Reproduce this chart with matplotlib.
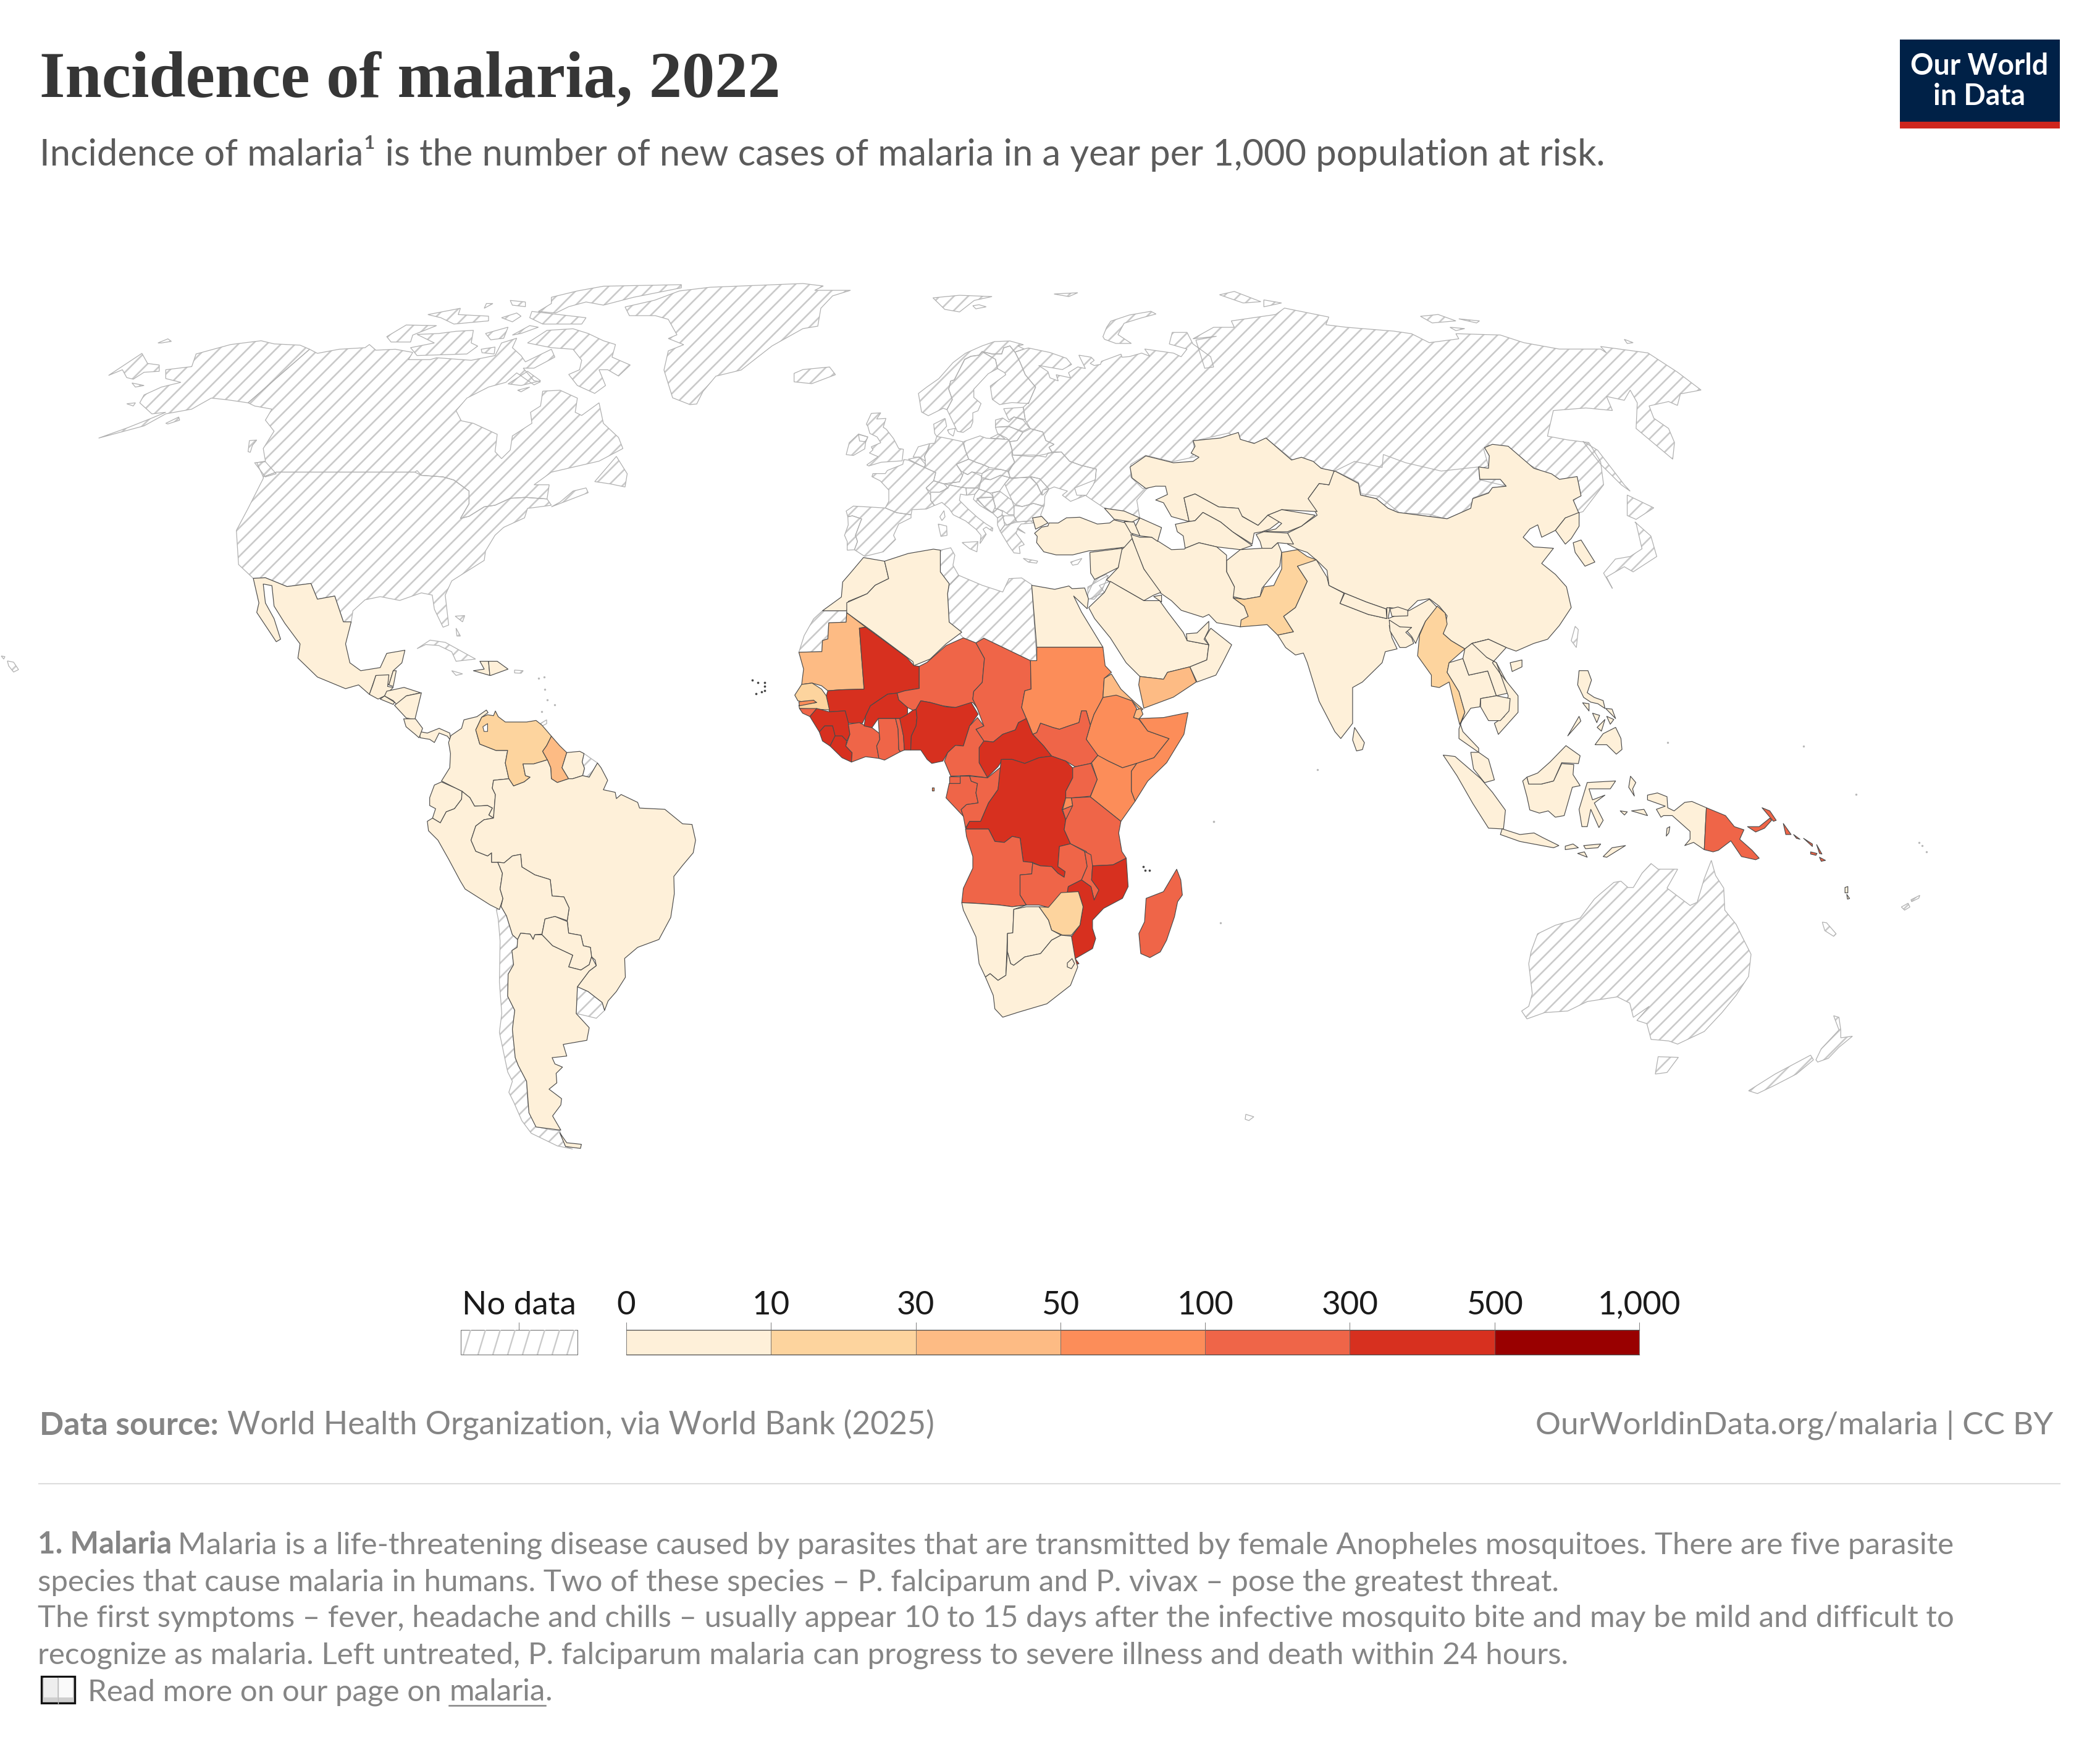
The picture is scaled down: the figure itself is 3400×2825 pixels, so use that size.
import numpy as np
import matplotlib
matplotlib.use("Agg")
import matplotlib.pyplot as plt
from matplotlib.colors import BoundaryNorm, ListedColormap
from matplotlib.patches import Polygon, Rectangle
from matplotlib.collections import LineCollection

# ---------- legend / scale ----------
bin_edges = [0, 10, 30, 50, 100, 300, 500, 1000]
bin_colors = ["#fef0d9", "#fdd49e", "#fdbb84", "#fc8d59", "#ef6548", "#d7301f", "#990000"]
bin_labels = ["0", "10", "30", "50", "100", "300", "500", "1,000"]

# ---------- incidence per 1,000 at risk (read by colour); absent = no data ----------
incidence_africa = {
 "Morocco":1,"Algeria":1,"Egypt":1,"Mauritania":40,"Mali":350,"Senegal":25,"Gambia":60,"Guinea-Bissau":110,
 "Guinea":320,"Sierra Leone":330,"Liberia":340,"Cote d'Ivoire":280,"Burkina Faso":350,"Ghana":160,"Togo":230,
 "Benin":380,"Niger":290,"Nigeria":310,"Chad":190,"Sudan":80,"Eritrea":40,"Djibouti":45,"Ethiopia":70,
 "Somalia":60,"South Sudan":270,"CAR":340,"Cameroon":260,"Equatorial Guinea":240,"Gabon":220,"Congo":230,
 "DR Congo":320,"Uganda":270,"Kenya":65,"Rwanda":85,"Burundi":280,"Tanzania":125,"Angola":230,"Zambia":190,
 "Malawi":220,"Mozambique":310,"Zimbabwe":25,"Namibia":5,"Botswana":1,"South Africa":1,"Eswatini":1,
 "Madagascar":150,"Sao Tome":60,"Comoros":15,"Cape Verde":0}
incidence_americas = {
 "Mexico":0.1,"Guatemala":2,"Belize":0.1,"El Salvador":0,"Honduras":3,"Nicaragua":8,"Costa Rica":1,"Panama":8,
 "Haiti":9,"Dominican Rep":0.5,"Colombia":8,"Venezuela":29,"Guyana":35,"Suriname":3,"Ecuador":2,"Peru":7,
 "Brazil":5,"Bolivia":3,"Paraguay":0,"Argentina":0}
incidence_asia = {
 "Turkey":0,"Syria":0,"Iraq":0,"Iran":1,"Saudi Arabia":1,"Yemen":45,"Oman":0,"UAE":0,"Kuwait":0,"Georgia":0,
 "Armenia":0,"Azerbaijan":0,"Kazakhstan":0,"Uzbekistan":0,"Turkmenistan":0,"Kyrgyzstan":0,"Tajikistan":0,
 "Afghanistan":8,"Pakistan":15,"India":3,"Nepal":0.1,"Bhutan":0.1,"Bangladesh":1,"China":0,"North Korea":1,
 "South Korea":0.1,"Myanmar":12,"Thailand":2,"Laos":2,"Vietnam":0.1,"Cambodia":2,"Malaysia":0.1,"Indonesia":3,
 "Philippines":0.5,"Sri Lanka":0,"PNG":150,"Solomon Islands":130,"Vanuatu":5}

# ---------- reference crops in which the outlines were read: x0, y0, x scale, y scale ----------
crops = {"af":(1200,850,1.96,1.845), "na":(100,420,1.4255,1.96), "sa":(600,1100,2.6133,1.96),
         "eu":(1300,420,1.0453,2.412), "as":(1600,680,1.568,2.24), "oc":(2300,1050,1.742,1.96), "px":(0,0,1,1),
         "e2":(1340,620,3,3), "nr":(1500,480,3,3)}

shapes_africa = {
"Morocco":[258,256,318,215,322,170,345,145,388,97,455,108,468,160,425,180,400,205,340,228,335,256],
"Western Sahara":[258,256,335,256,333,290,278,292,275,340,258,345,256,378,183,380,200,330,230,280],
"Algeria":[335,232,400,205,425,180,468,160,455,108,530,85,610,72,632,75,632,140,660,175,655,205,660,290,700,320,650,355,600,400,548,420,545,408,420,320,335,262],
"Tunisia":[632,75,665,68,678,90,672,120,690,150,660,180,632,140],
"Libya":[660,180,690,150,765,180,830,200,850,160,890,158,922,178,938,405,918,405,770,338,745,352,705,337,660,290,655,205],
"Egypt":[922,180,995,192,1040,182,1050,190,1090,188,1102,220,1098,250,1055,212,1080,260,1148,365,938,365],
"Levant":[1100,185,1165,150,1145,195,1120,222,1100,220],
"Mauritania":[183,380,256,378,258,345,275,340,278,292,333,290,335,262,395,305,375,308,390,490,315,492,275,495,255,480,225,472,192,476,198,430],
"Mali":[375,308,395,305,525,395,548,420,565,422,565,488,520,495,495,502,465,505,425,530,410,540,395,570,385,592,340,592,330,555,280,558,270,510,275,495,315,492,390,490],
"Senegal":[170,508,192,476,225,472,255,490,270,510,280,552,240,550,185,548,183,538,240,530,230,525,190,527,180,525],
"Gambia":[183,528,230,523,238,530,185,540],
"Guinea-Bissau":[185,548,240,548,218,572,195,562],
"Guinea":[218,572,240,548,280,558,330,555,340,590,345,625,335,645,320,630,298,630,290,600,265,600,248,618],
"Sierra Leone":[248,618,265,600,290,600,298,630,282,660,258,645],
"Liberia":[282,660,298,630,320,630,335,645,332,660,352,680,350,708,320,695],
"Cote d'Ivoire":[340,595,375,590,395,600,415,605,438,622,440,640,430,660,437,697,395,692,350,708,352,680,332,660,345,625],
"Burkina Faso":[390,600,395,570,410,540,465,505,495,502,500,522,528,545,528,565,510,578,435,578,415,605],
"Ghana":[435,578,490,578,498,610,500,670,505,677,455,702,437,697,430,660,440,640,438,622],
"Togo":[490,578,505,578,515,630,518,672,505,677,500,670,498,610],
"Benin":[503,578,528,565,545,553,555,550,558,575,555,600,540,630,538,672,518,672,515,630],
"Niger":[495,502,520,495,565,488,565,422,590,410,650,360,705,337,745,352,772,398,765,470,738,497,735,520,752,550,735,530,680,545,640,540,600,530,570,525,555,550,545,553,528,545,500,522],
"Nigeria":[538,672,540,630,555,600,558,575,555,550,570,525,600,530,650,543,680,545,730,530,752,565,725,600,705,660,680,658,655,680,640,705,605,712,590,700,570,672],
"Chad":[745,352,770,338,918,405,920,490,900,495,890,545,905,578,880,590,870,612,830,625,800,648,770,645,745,610,770,600,750,550,735,520,738,497,765,470,772,398],
"Sudan":[918,405,938,405,938,365,1148,365,1155,420,1175,440,1152,458,1148,515,1140,530,1120,565,1108,598,1095,555,1080,555,1072,590,1040,600,1010,610,990,605,950,592,938,620,925,625,905,578,890,545,900,495,920,490],
"Eritrea":[1175,445,1205,490,1250,530,1275,550,1268,555,1240,525,1190,510,1148,515,1152,458],
"Djibouti":[1250,553,1268,548,1275,565,1262,580,1245,575],
"Ethiopia":[1148,515,1190,508,1240,525,1255,548,1245,575,1262,580,1290,615,1358,638,1310,695,1255,712,1210,725,1165,705,1130,688,1095,640,1108,598,1120,565,1140,530],
"Somalia":[1262,578,1340,575,1418,560,1405,625,1350,710,1290,765,1250,825,1238,795,1238,735,1255,712,1310,695,1358,638,1290,615],
"South Sudan":[925,625,938,620,950,592,990,605,1010,610,1040,600,1072,590,1080,555,1095,555,1108,598,1095,640,1132,688,1110,712,1060,722,1030,705,985,690,960,660],
"CAR":[755,660,770,645,800,648,830,625,870,612,880,590,905,578,925,625,960,660,985,690,945,695,900,712,860,700,830,700,815,722,780,755,755,710],
"Cameroon":[645,705,655,680,680,658,705,660,725,600,750,575,770,600,745,610,770,645,755,665,755,710,782,755,725,748,665,750],
"Equatorial Guinea":[660,750,695,750,695,772,660,772],
"Gabon":[660,772,695,772,695,750,725,750,730,765,750,772,745,800,752,830,715,835,698,850,705,870,650,815],
"Congo":[725,750,782,755,825,722,815,790,785,830,760,885,725,885,712,905,705,870,698,850,715,835,752,830,745,800,750,772,730,765],
"DR Congo":[825,700,860,700,900,712,945,695,985,690,1030,705,1052,725,1052,755,1030,795,1030,815,1018,850,1030,880,1025,910,1045,952,1010,960,1005,1020,1028,1035,1025,1052,1005,1040,985,1020,950,1018,925,1008,895,1005,885,935,860,930,835,948,805,945,785,908,712,908,725,885,760,885,785,830,815,790],
"Uganda":[1060,722,1110,712,1130,760,1108,810,1048,815,1030,815,1030,795,1052,755,1052,725],
"Kenya":[1132,688,1165,705,1210,725,1255,712,1238,735,1238,795,1250,825,1205,885,1108,812,1130,760,1112,710],
"Rwanda":[1030,815,1048,815,1052,838,1020,850],
"Burundi":[1020,850,1052,838,1045,860,1030,880],
"Tanzania":[1048,815,1108,812,1205,885,1198,920,1208,975,1222,995,1180,1015,1115,1018,1095,975,1045,952,1025,910,1030,880,1052,838],
"Angola":[712,908,785,908,805,945,835,948,860,930,885,935,895,1005,925,1008,922,1042,885,1045,885,1105,905,1135,860,1140,820,1135,745,1130,700,1128,705,1085,735,1025,735,990,715,930],
"Zambia":[925,1010,950,1018,985,1020,1005,1040,1025,1052,1028,1035,1005,1020,1010,960,1045,952,1090,975,1098,1020,1080,1060,1038,1080,1035,1098,975,1142,945,1135,905,1135,885,1105,885,1045,922,1042],
"Malawi":[1090,975,1110,985,1115,1018,1112,1060,1135,1090,1130,1115,1120,1120,1110,1080,1080,1060,1098,1020],
"Mozambique":[1115,1018,1180,1015,1222,995,1228,1080,1210,1115,1150,1145,1115,1180,1115,1205,1125,1235,1115,1265,1060,1295,1072,1310,1055,1315,1048,1230,1075,1195,1085,1140,1070,1095,1035,1098,1038,1080,1080,1060,1110,1080,1120,1120,1135,1090,1112,1060],
"Zimbabwe":[945,1140,975,1142,1015,1098,1070,1095,1085,1140,1075,1195,1048,1225,1020,1225,985,1210,975,1180],
"Namibia":[700,1128,745,1130,820,1135,860,1140,905,1135,865,1148,862,1218,845,1220,840,1345,815,1360,790,1340,775,1350,755,1310,745,1230,705,1150],
"Botswana":[865,1148,905,1140,945,1140,975,1180,985,1210,1015,1225,985,1240,950,1280,900,1290,865,1315,855,1310,845,1275,845,1220,862,1218],
"South Africa":[775,1350,790,1340,815,1360,840,1345,845,1275,855,1310,865,1315,900,1290,950,1280,985,1240,1015,1225,1048,1228,1060,1295,1068,1320,1045,1375,970,1430,880,1455,830,1470,805,1445,800,1405],
"Eswatini":[1035,1308,1050,1295,1058,1310,1048,1325,1035,1320],
"Lesotho":[965,1372,985,1352,1003,1362,985,1388,972,1388],
"Madagascar":[1382,1028,1395,1060,1400,1105,1385,1125,1375,1170,1350,1240,1330,1275,1297,1292,1268,1280,1262,1220,1280,1185,1285,1115,1340,1095,1362,1060],
"Sao Tome":[605,785,612,785,612,794,605,794],
}

shapes_north_america = {
"Alaska":[572,285,430,455,380,445,345,440,300,475,240,490,190,528,85,567,150,535,205,505,240,485,208,490,180,455,190,430,230,405,275,390,240,378,240,350,300,340,310,300,390,270,460,258,490,268,550,272],
"Seward":[108,368,185,298,198,330,225,335,225,355,190,358,165,380,150,375,140,350],
"Canada":[572,285,590,298,640,285,700,280,710,270,725,288,770,285,810,295,800,318,850,318,865,312,945,320,1000,305,1015,265,1050,250,1040,280,1060,305,1070,325,1130,285,1138,310,1090,345,1065,345,1090,385,1105,388,1090,398,1050,360,1025,390,985,405,935,440,910,480,922,512,950,520,1005,555,1000,610,1015,632,1035,605,1040,560,1085,520,1082,485,1105,465,1110,418,1150,415,1190,440,1185,485,1200,495,1240,455,1250,520,1285,565,1295,600,1240,640,1130,675,1090,715,1125,715,1120,760,1070,755,1035,758,1000,780,975,785,940,815,920,822,940,775,940,735,905,700,880,690,830,685,820,670,815,675,495,675,465,690,450,645,470,640,465,600,490,545,470,510,485,475,445,465,430,455],
"USA":[495,675,815,675,830,685,880,690,905,700,940,735,940,775,920,822,940,815,975,785,1000,780,1035,758,1070,755,1120,760,1130,780,1075,790,1068,820,1020,850,1000,875,978,925,975,955,900,1020,885,1065,893,1160,880,1167,860,1110,855,1065,830,1058,780,1082,735,1070,700,1080,672,1115,668,1150,650,1150,630,1068,590,1078,575,1028,520,1038,470,1010,442,1012,408,968,403,860,430,790,465,695,465,690],
"Nova Scotia":[1130,785,1215,740,1210,725,1180,735,1150,770],
"Newfoundland":[1230,705,1280,625,1305,680,1300,722,1265,712],
"Vancouver":[445,645,470,642,495,680,470,690],
"Baffin":[1075,265,1120,225,1180,220,1215,235,1250,258,1278,270,1270,310,1312,335,1285,370,1260,350,1240,350,1255,400,1230,425,1190,400,1170,365,1195,350,1200,320,1180,285,1130,280],
"Victoria":[805,280,860,265,820,238,870,235,910,228,950,225,945,265,960,275,935,300,820,305],
"Banks":[750,245,795,208,865,210,810,240,805,262,760,262],
"Ellesmere":[1130,120,1190,100,1250,85,1430,80,1430,90,1320,120,1250,145,1210,135,1170,150,1140,170,1100,165,1130,140],
"Devon":[1085,165,1210,185,1200,205,1110,205,1080,185],
"Melville":[845,175,920,155,915,175,985,180,985,195,905,205,875,185],
"Isle a":[1015,185,1050,170,1060,180,1040,198],
"Isle b":[1035,130,1070,135,1070,150,1040,145],
"Isle c":[980,140,995,140,975,155],
"Isle d":[978,235,1030,215,1020,250,990,255],
"Isle e":[1040,240,1080,210,1100,215,1060,235],
"Isle f":[968,285,1000,278,998,300,970,296],
"Southampton":[1030,395,1075,355,1105,385,1060,400],
"Coats":[1052,415,1080,405,1060,420],
"Kodiak":[240,520,270,500,272,510,245,522],
"Nunivak":[150,458,170,455,165,465],
"St Matthew":[162,392,190,400,170,405],
"St Lawrence":[222,265,245,252,253,260,230,265],
"Haida":[430,610,433,575,450,573,440,590,435,612],
"Cuba":[820,1235,850,1208,885,1215,955,1268,910,1275,900,1245,870,1225,840,1222],
"Jamaica":[900,1305,925,1315,910,1320],
"Puerto Rico":[1045,1303,1065,1305,1060,1313,1045,1312],
"Bahamas a":[908,1132,930,1130,925,1150],
"Bahamas b":[910,1170,920,1195,912,1195],
"Mexico":[442,1012,470,1010,520,1038,575,1028,590,1078,630,1068,650,1150,668,1150,655,1220,665,1280,690,1305,735,1295,750,1250,792,1240,785,1280,765,1305,755,1350,725,1320,710,1380,685,1350,655,1362,590,1325,545,1265,550,1220,515,1155,490,1100,485,1035,465,1030,470,1090,490,1140,505,1205,495,1213,450,1120,455,1090],
"Guatemala":[725,1320,755,1318,752,1355,765,1358,745,1385,730,1395,710,1380,718,1350],
"Belize":[755,1350,765,1305,772,1305,765,1355],
"El Salvador":[735,1395,745,1385,768,1405,765,1412],
"Honduras":[750,1370,790,1358,828,1375,795,1385,775,1415,765,1400,745,1385],
"Nicaragua":[768,1415,795,1385,830,1375,815,1460,795,1455],
"Haiti":[950,1305,975,1300,965,1275,985,1275,988,1320],
"Dominican Rep":[985,1275,1005,1275,1030,1300,990,1320,988,1320],
}

shapes_south_america = {
"Panama":[205,165,240,170,290,155,335,170,340,195,325,180,290,170,270,200,250,190,210,185],
"Costa Rica":[140,125,190,125,220,155,205,185,190,175,150,150],
"Colombia":[340,178,385,155,395,128,450,118,490,97,497,105,470,120,445,160,462,205,530,225,580,225,570,265,585,315,520,320,515,345,528,365,520,440,500,430,515,408,495,400,440,402,420,375,387,355,360,345,300,322,335,280,338,235,330,200],
"Venezuela":[445,160,470,120,495,112,520,115,528,100,540,118,570,135,660,135,700,130,725,145,765,180,745,210,728,228,748,255,690,268,645,268,655,305,675,310,650,325,605,338,585,315,570,265,580,225,530,225,462,205],
"Guyana":[765,180,800,210,830,232,810,280,838,315,790,327,765,315,762,280,748,255,728,228,745,210],
"Suriname":[830,232,885,228,903,235,895,262,905,282,897,305,855,315,838,315,810,280],
"French Guiana":[903,235,960,265,925,310,897,305,905,282,895,262],
"Ecuador":[300,325,360,345,387,355,385,380,355,410,320,420,295,455,262,440,275,410,250,400,250,375,270,335],
"Peru":[262,440,295,455,320,420,355,410,385,380,387,355,420,375,440,402,495,400,515,408,500,430,520,440,480,445,445,465,425,510,445,545,495,560,512,550,512,580,538,580,558,615,548,665,560,695,545,730,505,715,400,665,380,640,330,570,285,510,245,480,240,450],
"Brazil":[520,440,528,365,515,345,520,320,585,315,605,338,650,325,675,310,655,305,645,268,690,268,748,255,762,280,765,315,790,327,838,315,855,315,897,305,925,310,960,265,975,280,1003,320,985,350,1035,358,1040,378,1060,365,1130,390,1138,408,1245,412,1320,458,1360,460,1375,510,1365,550,1320,590,1283,625,1285,680,1270,755,1245,790,1220,825,1130,850,1075,885,1078,945,1040,990,1005,1020,990,1050,980,1025,920,990,875,975,925,925,955,908,950,890,935,880,930,850,900,845,890,812,838,805,832,765,840,725,818,690,768,687,760,635,695,620,640,595,635,555,600,560,565,582,538,580,512,580,512,550,495,560,445,545,425,510,445,465,480,445],
"Bolivia":[538,580,565,582,600,560,635,555,640,595,695,620,760,635,768,687,818,690,840,725,832,765,780,752,738,760,725,808,695,810,688,825,675,808,635,805,622,825,600,810,575,750,552,720,560,695,548,665,558,615],
"Paraguay":[738,760,780,752,832,768,838,805,890,812,900,845,930,850,935,880,925,905,890,922,838,912,855,875,770,845,725,810],
"Chile":[532,730,552,720,575,750,600,810,622,825,620,850,598,860,605,905,582,935,580,1005,610,1050,600,1110,612,1200,625,1225,660,1275,665,1345,672,1375,705,1420,770,1430,800,1432,825,1482,855,1490,790,1480,680,1440,640,1400,605,1340,585,1310,600,1275,580,1245,545,1120,555,1060,545,960,548,830,540,760],
"Argentina":[622,825,635,805,675,808,688,825,695,810,725,810,770,845,855,875,838,912,890,922,925,905,935,880,955,908,925,925,875,975,870,1060,925,1105,915,1145,815,1158,830,1195,768,1200,780,1220,812,1230,785,1250,788,1280,755,1300,808,1330,805,1350,770,1385,805,1430,700,1420,670,1375,660,1275,625,1225,612,1200,600,1110,610,1050,580,1005,582,935,605,905,598,860,620,850],
"Argentina:Tierra":[800,1438,830,1470,892,1475,888,1488,825,1482],
"Uruguay":[875,975,920,990,980,1025,990,1050,955,1075,900,1065,870,1060],
"Trinidad":[718,140,745,128,745,140,725,148],
}

russia_nr = [495,520,530,440,480,380,455,320,430,270,475,255,495,250,600,272,680,300,705,330,660,355,545,335,590,365,600,395,640,410,630,380,700,395,690,370,735,342,772,350,740,285,800,295,815,310,795,325,815,335,845,330,850,315,945,280,950,295,985,292,1045,275,1085,290,1060,255,1200,275]
russia_eu = [640,380,650,350,620,330,625,285,650,285,660,330,690,380,695,420,680,425,665,315,700,300,660,310,695,265,730,265,725,240,800,215,815,190,890,225,885,255,920,265,1000,280,1030,290,1060,325,1110,310,1105,290,1180,295,1220,325,1280,350,1350,350,1360,365,1350,340,1430,365,1480,440,1520,510,1485,525,1480,570,1465,555,1432,572,1440,620,1465,660,1475,715,1472,780,1410,660,1412,560,1400,510,1390,550,1360,535,1370,590,1325,580,1270,590,1260,690,1295,705,1330,715,1350,790,1355,880,1320,985,1312,990,1300,930,1315,900,1310,850,1280,860,1240,815,1200,765,1160,725,1152,740,1160,805,1145,820,1145,860,1190,885,1160,910,1135,930,1130,990,1090,1015,1060,995,1010,990,975,925,945,915,940,870,900,825,880,820,860,785,830,785,785,700,770,720,740,705,720,678,660,710,665,770,625,790,580,765,555,800,555,850,575,895,590,882,580,900,565,940,570,1010]
russia_e2 = [1340,605,1255,548,1290,495,1300,470,1305,418,1230,400,1175,380,1135,335,1090,335,1075,312,1100,298,1060,280,1045,238,985,222,960,180,950,118,975,95]

shapes_far_north = {
"Svalbard":[220,150,265,140,320,145,290,160,265,205,240,195],
"Franz Josef":[425,135,465,130,450,145],
"Severnaya a":[705,138,730,125,775,165,745,170],
"Severnaya b":[780,158,810,170,780,185],
"New Siberian a":[1045,222,1075,215,1105,240,1065,248],
"New Siberian b":[1110,232,1145,240,1140,248],
"Lyakhov":[1095,265,1120,270,1105,278],
"Wrangel":[1390,312,1405,325,1395,328],
"Sakhalin":[1320,710,1345,745,1390,880,1400,905,1385,880,1350,800],
"Hokkaido":[1395,920,1440,970,1410,1015,1395,1000],
"Honshu":[1408,1025,1435,1080,1445,1160,1405,1220,1390,1200,1360,1240,1370,1285,1355,1225,1375,1170,1400,1160,1420,1130,1410,1030],
"Iceland":[0,430,45,420,55,450,15,485,-15,478,-15,445],
}

shapes_nordic = {
"Sweden":[100,550,125,500,108,450,118,410,135,405,185,305,215,290,255,285,270,268,335,305,345,350,300,375,230,450,230,490,265,520,250,555,225,565,225,610,215,635,178,660,150,655],
"Finland":[270,268,320,280,365,278,375,250,405,240,430,270,455,320,480,380,530,440,495,520,415,515,355,525,320,500,310,435,385,380,380,370,345,350,335,305],
"Novaya Zemlya":[857,195,875,150,895,120,985,90,1090,72,1115,85,1040,105,960,130,930,185,995,228,920,228,865,208],
"Bear":[225,45,255,40,290,50,240,60],
}

shapes_norway = {
"Norway":[1487,637,1500,627,1520,613,1543,587,1563,572,1590,560,1610,553,1635,552,1657,558,1648,560,1658,565,1643,570,1635,560,1625,563,1622,573,1607,573,1590,569,1585,575,1572,577,1562,582,1545,615,1539,617,1536,630,1542,647,1533,663,1527,661,1503,673,1492,667],
"Greenland":[1012,497,1019,511,1061,511,1082,517,1096,542,1082,548,1107,558,1082,568,1075,599,1089,644,1117,655,1128,654,1138,634,1159,609,1200,599,1250,560,1300,532,1324,528,1329,499,1348,479,1377,470,1319,470,1333,463,1300,459,1200,463,1150,465,1100,471,1060,486],
"Hawaii a":[12,1070,22,1072,30,1084,22,1088,14,1078],
"Hawaii b":[2,1062,8,1063,6,1067],
"Kerguelen":[2017,1804,2030,1808,2022,1814,2016,1812],
}

shapes_europe = {
"Ireland":[90,348,105,290,150,248,195,262,185,285,180,320,125,352],
"N Ireland":[150,250,195,262,185,285,155,282],
"UK":[188,200,212,148,258,145,238,175,283,172,270,215,285,225,320,270,345,318,368,322,362,378,260,385,200,403,190,398,245,358,203,340,220,325,212,310,258,290,240,262,205,245,195,210],
"Spain":[90,622,125,598,280,607,335,630,405,640,405,655,345,685,320,740,330,760,270,820,180,842,130,810,145,770,135,740,165,660,120,645,98,650],
"Portugal":[98,650,120,645,165,660,135,740,145,770,130,810,95,812,95,770,82,740,100,690],
"France":[280,607,297,575,297,520,255,475,215,455,220,440,280,440,290,425,365,395,370,372,392,375,470,410,525,435,515,475,478,510,500,545,500,570,518,595,480,612,410,615,405,640,335,630],
"Corsica":[545,650,565,620,570,650,555,668],
"Sardinia":[537,685,578,695,580,740,550,745],
"Belgium":[392,370,445,360,475,395,470,410],
"Netherlands":[415,360,440,310,495,295,490,325,470,355,475,380,445,360],
"Germany":[475,395,472,355,495,295,520,292,530,260,560,265,610,275,655,285,668,325,685,370,625,395,650,435,655,450,640,480,565,490,515,475,525,435,470,410],
"Denmark":[515,200,570,172,578,210,555,235,530,260,520,245],
"Zealand":[582,228,620,220,610,258,590,245],
"Poland":[660,285,740,257,770,268,880,275,895,325,895,350,908,385,880,430,840,420,785,410,750,395,720,385,685,370,668,325],
"Czechia":[625,395,685,370,720,385,750,395,785,410,750,440,700,432,680,445,650,430],
"Slovakia":[785,420,840,420,880,430,885,460,840,448,790,470,748,458,750,440],
"Austria":[565,490,640,480,655,450,660,435,680,445,700,432,745,450,748,465,730,510,680,510,640,505,590,495],
"Switzerland":[478,510,515,475,565,490,585,510,545,530,500,530],
"Italy":[500,545,500,530,545,530,585,510,590,495,640,505,672,510,675,545,645,540,640,570,680,610,730,655,770,685,802,705,800,720,770,700,755,710,770,735,740,780,745,740,720,710,670,670,610,640,590,610,555,580,520,595,500,570],
"Sicily":[653,775,730,770,725,820,690,805],
"Hungary":[748,465,790,470,840,448,885,460,860,490,835,525,790,535,735,515],
"Slovenia":[672,510,730,510,735,515,715,540,675,545],
"Croatia":[715,540,735,515,790,535,805,555,740,555,725,565,760,600,800,632,740,595,708,565],
"Bosnia":[725,560,800,555,815,600,800,630,760,600],
"Serbia":[800,535,835,525,895,570,905,600,905,640,880,640,850,620,815,610,805,560],
"Montenegro":[800,630,825,610,850,625,845,645,825,655],
"Albania":[825,655,850,640,860,690,838,720,825,690],
"N Macedonia":[850,645,905,645,915,670,870,690,858,675],
"Romania":[885,460,985,460,1015,490,1030,520,1045,545,1075,515,1055,550,1052,598,1000,585,945,600,910,590,895,570,860,490],
"Moldova":[985,455,1030,465,1075,515,1045,520,1040,545,1020,495],
"Bulgaria":[905,595,945,600,1000,585,1050,600,1035,640,1040,665,985,670,920,675,905,645],
"Greece":[860,690,870,690,920,675,985,670,1000,680,940,685,920,710,960,730,925,705,915,730,955,785,930,795,935,828,905,825,880,790,838,720],
"Crete":[950,852,1020,865,1015,875,975,870],
"Cyprus":[1180,870,1235,852,1215,880,1190,885],
"Ukraine":[905,350,1005,350,1060,360,1070,340,1135,335,1175,380,1230,400,1305,418,1300,470,1250,490,1200,510,1210,545,1255,545,1180,575,1140,545,1165,525,1100,505,1075,515,1030,465,985,455,890,465,875,430,908,385,895,350],
"Belarus":[885,285,920,280,948,240,985,222,1045,238,1060,280,1100,298,1075,312,1090,338,1060,345,1000,358,900,350,895,320],
"Lithuania":[815,215,880,210,948,240,920,280,885,285,870,268,825,245],
"Kaliningrad":[795,265,830,248,862,272,790,268],
"Latvia":[815,215,815,180,850,170,880,190,905,165,950,180,980,218,948,235,880,212],
"Estonia":[855,125,950,118,960,178,905,165,880,180],
"Turkey":[1005,730,1040,700,1070,695,1075,680,1120,680,1160,655,1225,652,1310,685,1370,680,1390,665,1450,680,1480,730,1500,800,1440,798,1290,815,1270,815,1190,835,1110,835,1050,820,1015,775,1018,745],
"Turkey:Thrace":[995,655,1040,648,1070,680,1010,710],
}

shapes_asia = {
"Mongolia":[880,185,930,150,1000,172,1003,125,1060,155,1150,185,1245,170,1248,215,1300,215,1315,240,1280,245,1270,265,1230,285,1225,320,1165,358,1040,335,1015,320,985,285,945,272,940,230],
"China":[880,185,940,230,945,272,985,285,1015,320,1040,335,1165,358,1225,320,1230,285,1270,265,1280,245,1315,240,1300,215,1248,215,1245,170,1270,175,1272,130,1260,100,1280,88,1320,95,1385,175,1430,195,1450,215,1495,205,1505,275,1485,290,1500,340,1465,355,1440,400,1405,425,1395,380,1375,395,1358,425,1385,460,1435,465,1405,520,1440,560,1468,605,1480,680,1450,745,1420,795,1385,810,1340,838,1315,825,1270,795,1228,810,1210,830,1175,800,1155,775,1165,710,1145,675,1120,648,1090,655,1065,690,1020,680,1010,685,960,660,905,628,865,600,860,545,835,510,810,480,785,468,760,450,760,410,795,385,835,345,812,285,840,230,865,235,875,190],
"Kazakhstan":[360,170,400,130,470,155,520,150,535,135,515,120,525,95,520,75,590,65,635,45,640,70,675,85,705,65,770,145,795,135,825,150,845,175,878,185,865,235,840,230,812,285,835,332,745,325,710,345,685,382,640,345,635,320,585,315,525,268,497,282,510,368,465,350,445,300,425,290,455,270,450,240,425,240,400,248,365,210],
"Uzbekistan":[497,282,525,268,585,315,635,320,645,350,685,382,710,345,740,368,715,395,695,405,675,410,670,450,620,405,590,370,545,335,525,365,510,368],
"Turkmenistan":[475,378,510,368,525,365,545,335,590,370,620,405,670,455,640,470,580,460,535,445,500,465,495,420,480,405],
"Kyrgyzstan":[710,345,745,325,830,345,795,385,760,405,700,405,730,395,745,375],
"Tajikistan":[680,415,700,405,760,410,775,450,735,445,720,465,695,465,690,440],
"Afghanistan":[605,510,640,470,695,465,720,465,735,445,745,480,740,530,695,610,690,640,650,650,620,640,625,605,605,550],
"Iran":[362,415,385,425,415,425,432,440,465,470,498,468,500,465,535,445,580,460,605,490,605,550,625,605,622,645,650,675,660,712,640,750,580,735,560,705,545,715,490,690,465,655,435,625,395,540,375,470],
"Iraq":[345,462,365,430,395,540,438,625,420,635,395,655,340,610,300,580,330,535,335,475],
"Syria":[258,480,340,465,330,535,270,578,260,555],
"Jordan":[255,650,295,625,282,600,310,585,300,560,270,578,250,640],
"Saudi Arabia":[255,680,295,625,310,585,340,610,395,655,435,655,455,695,495,770,505,800,560,815,555,870,512,895,455,915,445,940,385,930,350,880,310,790,270,720],
"Yemen":[385,930,445,940,455,915,512,895,528,950,470,1005,395,1045,382,960],
"Oman":[512,895,555,870,560,815,550,790,565,755,618,815,595,880,578,925,530,950],
"UAE":[505,800,503,775,530,772,560,730,560,760,548,795,560,815],
"Kuwait":[420,640,440,635,440,660],
"Pakistan":[622,645,650,650,690,640,700,605,725,600,745,540,745,480,785,470,810,495,833,507,815,525,785,530,810,585,780,680,750,712,775,768,735,780,708,742,640,750,642,725,660,712,650,675],
"India":[785,530,833,507,860,570,865,600,903,628,893,665,965,705,1012,720,1012,680,1020,682,1015,720,1070,690,1120,650,1140,680,1110,730,1095,775,1085,810,1075,785,1060,760,1045,750,1018,745,1025,790,1038,830,1008,840,1000,880,950,950,925,970,925,1100,895,1155,880,1130,840,1020,810,880,800,845,780,852,755,825,735,780,775,768,750,712,780,680,810,585],
"Nepal":[893,665,905,628,960,660,1010,685,1012,720,965,705],
"Bhutan":[1020,685,1040,678,1065,690,1065,710,1025,712],
"Bangladesh":[1018,725,1045,750,1075,752,1060,770,1075,790,1080,810,1060,825,1045,825,1035,800,1020,765],
"Myanmar":[1140,675,1160,700,1165,740,1155,775,1175,800,1210,830,1170,880,1165,915,1195,985,1210,1060,1197,1105,1180,1010,1170,950,1145,970,1125,965,1125,925,1090,855,1095,780,1110,730],
"Thailand":[1170,880,1205,865,1220,925,1268,910,1290,1000,1250,1010,1248,1040,1225,1045,1198,1100,1205,1130,1245,1190,1245,1205,1215,1175,1195,1155,1195,1120,1210,1060,1195,985,1165,915],
"Laos":[1210,830,1228,810,1270,795,1265,860,1290,880,1320,960,1320,990,1290,1000,1268,910,1220,925,1205,865],
"Vietnam":[1228,810,1270,795,1315,825,1280,880,1300,920,1345,1000,1345,1060,1295,1140,1285,1100,1310,1075,1320,1000,1290,880,1265,860],
"Cambodia":[1250,1010,1290,1000,1325,1010,1322,1055,1300,1090,1270,1090,1250,1040],
"China:Hainan":[1325,880,1355,870,1355,895,1330,912],
"Malaysia":[1225,1205,1245,1205,1270,1230,1285,1305,1260,1315,1232,1265],
"Indonesia:Sumatra":[1155,1215,1185,1220,1250,1300,1280,1350,1313,1415,1308,1483,1270,1480,1230,1390,1190,1290],
"North Korea":[1440,400,1465,355,1500,335,1500,385,1480,430,1465,450],
"South Korea":[1485,445,1505,435,1540,515,1515,530,1490,480],
"Sri Lanka":[930,1115,955,1170,950,1195,935,1200,925,1160],
"Taiwan":[1490,748,1498,760,1493,825,1480,800],
"Georgia":[295,320,345,330,385,355,365,370,345,365,320,360],
"Azerbaijan":[385,355,440,390,430,440,415,425,385,420,370,395],
"Armenia":[345,368,370,370,385,420,362,410],
}

shapes_oceania = {
"Indonesia:Kalimantan":[288,420,300,408,305,430,340,430,375,420,398,365,432,368,430,400,450,435,428,440,405,530,380,535,360,515,335,522,308,512,300,470],
"Malaysia:Borneo":[300,408,330,395,365,360,410,308,450,340,445,365,398,362,375,420,340,430,305,430],
"Indonesia:Sulawesi":[470,425,550,420,535,445,475,445,485,480,520,465,490,490,515,545,503,568,480,510,470,565,455,565,447,510],
"Indonesia:Java":[230,572,280,590,320,585,345,600,390,625,375,632,280,612,225,590],
"Indonesia:Sumbawa":[408,627,430,620,445,632,408,638],
"Indonesia:Flores":[460,625,508,620,500,632,465,635],
"Indonesia:Sumba":[443,650,462,645,470,662],
"Indonesia:Timor":[515,660,540,632,578,625,525,662],
"Philippines:Luzon":[447,70,472,70,482,100,470,140,490,155,515,165,520,190,500,175,480,170,460,155,443,115],
"Philippines:Mindanao":[492,305,515,270,550,250,565,285,568,320,552,335,525,305],
"Philippines:Palawan":[415,277,447,215,452,230],
"Philippines:Mindoro":[457,172,475,175,475,198],
"Philippines:Panay":[485,205,505,212,497,235],
"Philippines:Negros":[498,250,520,225,510,262],
"Philippines:Leyte":[525,215,545,225,535,240],
"Philippines:Samar":[522,190,540,192,550,222],
"Indonesia:Halmahera":[592,405,607,425,598,445,603,468,587,440],
"Indonesia:Seram":[595,515,630,510,640,530],
"Indonesia:Buru":[563,515,583,518,575,528],
"Indonesia:Papua":[640,465,668,458,695,470,697,505,715,515,745,488,765,485,806,505,800,638,770,615,745,625,760,605,760,580,710,530,685,530,678,535,665,510,690,500,665,490,640,480],
"Indonesia:Aru":[693,595,695,570,703,565,700,585],
"PNG":[806,505,860,530,885,565,912,575,900,605,935,640,955,665,945,670,905,660,875,610,840,640,825,645,800,638],
"PNG:New Britain":[922,565,955,565,985,538,990,545,970,570,945,582],
"PNG:New Ireland":[963,505,985,515,1003,545,995,548],
"PNG:Bougainville":[1023,555,1045,590,1030,590],
"Solomon Islands:a":[1052,590,1070,605,1060,602],
"Solomon Islands:b":[1080,602,1105,620,1105,628],
"Solomon Islands:c":[1117,622,1132,652,1125,650],
"Solomon Islands:d":[1100,645,1118,650,1115,656,1100,652],
"Solomon Islands:e":[1125,662,1142,672,1130,675],
"Vanuatu:a":[1197,758,1205,755,1205,775,1197,775],
"Vanuatu:b":[1202,780,1210,793,1204,795],
"New Caledonia":[1133,868,1145,870,1172,905,1165,913,1140,895],
"Fiji a":[1356,820,1375,808,1380,820,1365,830],
"Fiji b":[1383,797,1408,783,1405,792,1385,803],
"Australia":[285,1150,305,1135,315,1095,305,1000,312,960,330,905,380,878,450,855,490,795,505,780,545,742,565,738,585,758,600,758,625,712,650,682,670,700,725,700,695,760,760,815,780,805,800,730,820,672,832,720,855,760,858,830,890,875,905,910,932,970,925,1040,890,1100,850,1155,800,1215,725,1255,700,1245,650,1240,638,1190,610,1180,645,1135,600,1170,590,1125,555,1105,470,1120,415,1150,350,1155,300,1175],
"Tasmania":[670,1295,727,1297,695,1345,662,1350],
"NZ South":[925,1403,1000,1350,1100,1290,1108,1305,1060,1350,1000,1385,950,1412],
"NZ North":[1115,1305,1130,1270,1180,1210,1165,1165,1180,1170,1185,1210,1185,1235,1218,1230,1180,1265,1150,1300,1120,1312],
}

# tiny islands: crop, x, y
tiny_data = [("af",35,463),("af",52,470),("af",75,470),("af",75,482),("af",47,503),("af",65,498),("af",75,495),
             ("af",1275,1020),("af",1282,1032),("af",1295,1032)]
tiny_nodata = [("af",1520,1188),("af",1500,885),("na",1100,1328),("na",1113,1325),("na",1115,1365),("na",1120,1398),
               ("na",1137,1413),("na",1108,1435),("oc",697,297),("oc",1080,310),("oc",1405,615),("oc",1415,625),("oc",1427,645),
               ("oc",1228,462),("as",835,1267),("as",572,1455)]

# ---------- text ----------
title = "Incidence of malaria, 2022"
subtitle = "Incidence of malaria\u00b9 is the number of new cases of malaria in a year per 1,000 population at risk."
source_label = "Data source:"
source_text = "World Health Organization, via World Bank (2025)"
url_text = "OurWorldinData.org/malaria | CC BY"
note_lines = ["Malaria is a life-threatening disease caused by parasites that are transmitted by female Anopheles mosquitoes. There are five parasite",
              "species that cause malaria in humans. Two of these species \u2013 P. falciparum and P. vivax \u2013 pose the greatest threat.",
              "The first symptoms \u2013 fever, headache and chills \u2013 usually appear 10 to 15 days after the infective mosquito bite and may be mild and difficult to",
              "recognize as malaria. Left untreated, P. falciparum malaria can progress to severe illness and death within 24 hours."]

# ---------- drawing ----------
plt.rcParams["font.family"] = ["Lato", "DejaVu Sans"]
fig = plt.figure(figsize=(34, 28.25), dpi=100)
ax = fig.add_axes([0, 0, 1, 1])
ax.set_xlim(0, 3400)
ax.set_ylim(2825, 0)
ax.axis("off")

cmap = ListedColormap(bin_colors)
norm = BoundaryNorm(bin_edges, cmap.N)
incidence = {**incidence_africa, **incidence_americas, **incidence_asia}
EDGE_DATA, EDGE_NONE, HATCH = "#4a4a4a", "#b0b0b0", "#cacaca"
HATCH_STEP = 23

def to_px(crop, flat):
    x0, y0, sx, sy = crops[crop]
    p = np.asarray(flat, float).reshape(-1, 2)
    return np.column_stack([x0 + p[:, 0] / sx, y0 + p[:, 1] / sy])

def hatch_fill(patch, xy):
    lo = np.floor((xy.sum(1).min()) / HATCH_STEP) * HATCH_STEP
    hi = xy.sum(1).max()
    ymin, ymax = xy[:, 1].min(), xy[:, 1].max()
    segs = [[(c - ymin, ymin), (c - ymax, ymax)] for c in np.arange(lo, hi + HATCH_STEP, HATCH_STEP)]
    lc = LineCollection(segs, colors=HATCH, linewidths=1.9, zorder=2)
    ax.add_collection(lc)
    lc.set_clip_path(patch)

def draw_nodata(xy):
    p = Polygon(xy, closed=True, facecolor="white", edgecolor="none", zorder=1)
    ax.add_patch(p)
    hatch_fill(p, xy)
    ax.add_patch(Polygon(xy, closed=True, facecolor="none", edgecolor=EDGE_NONE, lw=0.9, zorder=3))

draw_nodata(np.vstack([to_px("nr", russia_nr), to_px("eu", russia_eu), to_px("e2", russia_e2)]))

groups = [("na", shapes_north_america), ("px", shapes_norway), ("eu", shapes_far_north), ("nr", shapes_nordic),
          ("e2", shapes_europe), ("as", shapes_asia), ("oc", shapes_oceania), ("sa", shapes_south_america), ("af", shapes_africa)]
pending = []
for crop, shapes in groups:
    for name, flat in shapes.items():
        xy = to_px(crop, flat)
        val = incidence.get(name.split(":")[0])
        if val is None:
            draw_nodata(xy)
        else:
            pending.append((xy, val))
for xy, val in pending:
    ax.add_patch(Polygon(xy, closed=True, facecolor=cmap(norm(val)), edgecolor=EDGE_DATA, lw=0.85, joinstyle="round", zorder=4))

# Lake Maracaibo
ax.add_patch(Polygon(to_px("sa", [475,150,495,140,495,165,480,165]), closed=True, facecolor="white", edgecolor=EDGE_DATA, lw=0.8, zorder=5))

for c, x, y in tiny_data:
    q = to_px(c, [x, y])
    ax.scatter(q[:, 0], q[:, 1], s=7, color="#444444", zorder=5, linewidths=0)
for c, x, y in tiny_nodata:
    q = to_px(c, [x, y])
    ax.scatter(q[:, 0], q[:, 1], s=6, color="#b8b8b8", zorder=5, linewidths=0)

# ---------- legend ----------
LX0, LX1, LY0, LY1 = 1014, 2654, 2153, 2193
edges_px = np.linspace(LX0, LX1, len(bin_colors) + 1)
for i, col in enumerate(bin_colors):
    ax.add_patch(Rectangle((edges_px[i], LY0), edges_px[i + 1] - edges_px[i], LY1 - LY0, facecolor=col, edgecolor="none", zorder=3))
ax.plot([LX0, LX1], [LY0, LY0], color="#4a4a4a", lw=0.9, zorder=4)
ax.plot([LX0, LX1], [LY1, LY1], color="#4a4a4a", lw=0.9, zorder=4)
for i, lab in enumerate(bin_labels):
    ax.plot([edges_px[i]] * 2, [2141, LY1], color="#666666", lw=0.6, zorder=5)
    ax.text(edges_px[i], 2128, lab, ha="center", va="baseline", fontsize=38, color="#1a1a1a")
NX0, NX1 = 746, 935
box = Rectangle((NX0, LY0), NX1 - NX0, LY1 - LY0, facecolor="white", edgecolor="#666666", lw=0.7, zorder=3)
ax.add_patch(box)
lc = LineCollection([[(x, LY1), (x + 12, LY0)] for x in np.arange(NX0 - 20, NX1, 24)], colors=HATCH, linewidths=1.7, zorder=3.5)
ax.add_collection(lc)
lc.set_clip_path(box)
ax.plot([(NX0 + NX1) / 2] * 2, [2141, LY0], color="#666666", lw=0.6)
ax.text((NX0 + NX1) / 2, 2128, "No data", ha="center", va="baseline", fontsize=38, color="#1a1a1a")

# ---------- header ----------
ax.text(64, 157, title, family=["Liberation Serif"], fontweight="bold", fontsize=76.6, color="#363636", va="baseline")
ax.text(64, 268, subtitle, fontsize=42.9, color="#5b5b5b", va="baseline")
ax.add_patch(Rectangle((3076, 64), 259, 133, facecolor="#002147", edgecolor="none"))
ax.add_patch(Rectangle((3076, 197), 259, 11, facecolor="#ce261e", edgecolor="none"))
ax.text(3205, 121, "Our World", color="white", fontweight="bold", fontsize=33.5, ha="center", va="baseline")
ax.text(3205, 170, "in Data", color="white", fontweight="bold", fontsize=33.5, ha="center", va="baseline")

# ---------- footer ----------
GREY = "#858585"
rend = fig.canvas.get_renderer()
def run(x, y, s, **kw):
    t = ax.text(x, y, s, va="baseline", **kw)
    return x + t.get_window_extent(rend).width

x = run(64, 2323, source_label, fontsize=37.2, fontweight="bold", color=GREY)
run(x + 14, 2323, source_text, fontsize=37.2, color=GREY)
ax.text(3324, 2323, url_text, fontsize=37, color=GREY, ha="right", va="baseline")
ax.plot([63, 3335], [2402, 2402], color="#dddddd", lw=1.5)

NOTE_FS = 35.5
ys = [2515, 2575, 2634, 2693, 2753]
x = run(61, ys[0], "1. Malaria", fontsize=NOTE_FS, fontweight="bold", color=GREY)
run(x + 10, ys[0], note_lines[0], fontsize=NOTE_FS, color=GREY)
for y, line in zip(ys[1:4], note_lines[1:]):
    run(61, y, line, fontsize=NOTE_FS, color=GREY)
# open-book icon
ax.add_patch(Rectangle((67, 2714), 54, 43, facecolor="#cfcfcf", edgecolor="#111111", lw=2.4))
ax.add_patch(Rectangle((71, 2716), 22, 32, facecolor="#eeeeee", edgecolor="none"))
ax.add_patch(Rectangle((95, 2716), 23, 32, facecolor="#fafafa", edgecolor="none"))
ax.plot([94, 94], [2716, 2759], color="#bbbbbb", lw=1)
x = run(142, ys[4], "Read more on our page on ", fontsize=NOTE_FS, color=GREY)
x2 = run(x, ys[4], "malaria", fontsize=NOTE_FS, color=GREY)
ax.plot([x, x2], [2761, 2761], color=GREY, lw=1.8)
run(x2, ys[4], ".", fontsize=NOTE_FS, color=GREY)

fig.savefig("out.png", dpi=100, facecolor="white")
